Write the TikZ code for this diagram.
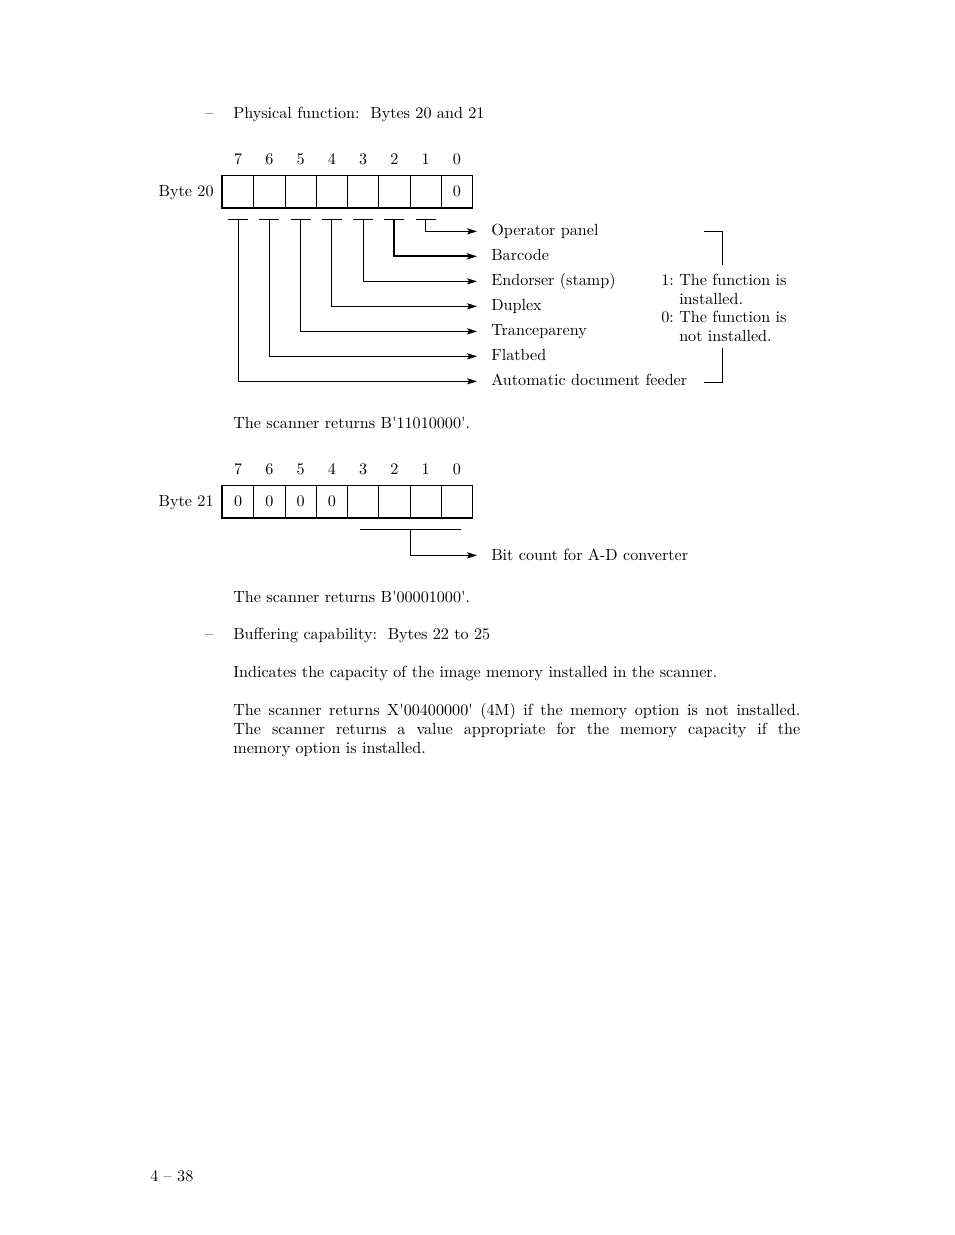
\documentclass[tikz,border=0pt]{standalone}
\usetikzlibrary{arrows.meta, positioning}
\newcommand{\sq}{\textquotesingle}

\begin{document}
\begin{tikzpicture}[
    x=0.6445pt, y=-0.6445pt,
    font=\fontsize{10.4}{12.25}\selectfont,
    bitcell/.style={draw, line width=0.6pt, minimum width=20.14pt, minimum height=20.6pt, inner sep=0pt, anchor=north west},
    txt/.style={inner sep=0pt, anchor=base west},
    feed/.style={line width=0.6pt, -{Stealth[length=6.5pt, width=4pt, inset=1.5pt]}, shorten >=9pt},
    tick/.style={line width=0.6pt}
  ]
  \useasboundingbox (0,0) rectangle (954,1235);

  % headings and text
  \node[txt] at (205,119) {--};
  \node[txt] (h1) at (233,119) {Physical function:\ \ Bytes 20 and 21};

  % byte 20
  \foreach \b [count=\k from 0] in {7,...,0} {
    \node[bitcell] (a\b) at ({222+31.25*\k},175) {};
    \path (a\b.north) ++(0,-16) node {\b};
  }
  \node at (a0) {0};
  \draw[line width=1.3pt] (a7.north west) -- (a7.south west) -- (a0.south east);
  \node[inner sep=0pt, left=5.2pt of a7, yshift=-1pt] (byte20) {Byte 20};

  \node[txt] (f1) at (491,236) {Operator panel};
  \node[txt] (f2) at (491,261) {Barcode};
  \node[txt] (f3) at (491,286) {Endorser (stamp)};
  \node[txt] (f4) at (491,311) {Duplex};
  \node[txt] (f5) at (491,336) {Trancepareny};
  \node[txt] (f6) at (491,361) {Flatbed};
  \node[txt] (f7) at (491,386) {Automatic document feeder};

  \foreach \b in {1,...,7} {
    \coordinate (t\b) at ([yshift=-7.7pt]a\b.south);
    \draw[tick] ([xshift=-6.5pt]t\b) -- ([xshift=6.5pt]t\b);
  }
  \foreach \b in {1,3,4,5,6,7}
    \draw[feed] (t\b) |- ([yshift=3pt]f\b.base west);
  \draw[feed, line width=1.3pt] (t2) |- ([yshift=3pt]f2.base west);

  % legend
  \node[anchor=north west, inner sep=0pt, align=left, font=\fontsize{10.4}{12}\selectfont] (legend) at (661,274)
    {1:~The function is\\\hphantom{1:~}installed.\\0:~The function is\\\hphantom{0:~}not installed.};
  \coordinate (bt) at (722,231);
  \coordinate (bb) at (722,382);
  \draw[tick] ([xshift=-11.6pt]bt) -- (bt) -- (722,265);
  \draw[tick] (722,348) -- (bb) -- ([xshift=-11.6pt]bb);

  \node[txt] (r20) at (233,429) {The scanner returns B\sq11010000\sq.};

  % byte 21
  \foreach \b [count=\k from 0] in {7,...,0} {
    \node[bitcell] (c\b) at ({222+31.25*\k},485) {};
    \path (c\b.north) ++(0,-16) node {\b};
  }
  \foreach \b in {7,6,5,4}
    \node at (c\b) {0};
  \draw[line width=1.3pt] (c7.north west) -- (c7.south west) -- (c0.south east);
  \node[inner sep=0pt, left=5.2pt of c7, yshift=-1pt] (byte21) {Byte 21};

  \coordinate (u) at ([yshift=-7.7pt]c2.south east);
  \draw[tick] ([xshift=-32.5pt]u) -- ([xshift=32.5pt]u);
  \node[txt] (g) at (491,560) {Bit count for A-D converter};
  \draw[feed] (u) |- ([yshift=3pt]g.base west);

  \node[txt] (r21) at (233,602) {The scanner returns B\sq00001000\sq.};

  \node[txt] at (205,639) {--};
  \node[txt] (h2) at (233,639) {Buffering capability:\ \ Bytes 22 to 25};
  \node[txt] (ind) at (233,677) {Indicates the capacity of the image memory installed in the scanner.};
  \node[anchor=north west, inner sep=0pt, text width=365.4pt, align=justify] (para) at (233,703)
    {The scanner returns X\sq00400000\sq{} (4M) if the memory option is not installed.\linebreak
     The scanner returns a value appropriate for the memory capacity if the\linebreak
     memory option is installed.};

  \node[txt] (page) at (150,1181) {4 -- 38};
\end{tikzpicture}
\end{document}
